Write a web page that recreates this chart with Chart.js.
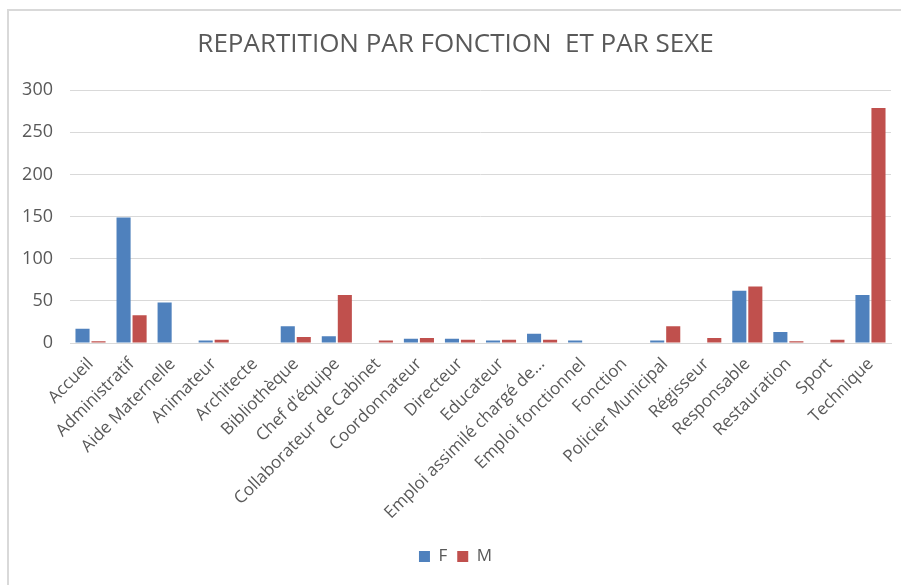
<!DOCTYPE html>
<html>
<head>
<meta charset="utf-8">
<script src="https://cdn.jsdelivr.net/npm/chart.js@4/dist/chart.umd.min.js"></script>
<style>
  html, body { margin: 0; padding: 0; background: #fff; overflow: hidden; }
  #frame { position: absolute; left: 7px; top: 9px; width: 1000px; height: 700px; border-left: 2px solid #d9d9d9; border-top: 2px solid #d9d9d9; }
  #wrap { position: absolute; left: 0; top: 0; width: 901px; height: 585px; }
</style>
</head>
<body>
<div id="frame"></div>
<div id="wrap"><canvas id="chart" width="901" height="585"></canvas></div>
<script>
// data
const categories = ["Accueil", "Administratif", "Aide Maternelle", "Animateur", "Architecte",
  "Bibliothèque", "Chef d'équipe", "Collaborateur de Cabinet", "Coordonnateur", "Directeur",
  "Educateur", "Emploi assimilé chargé de...", "Emploi fonctionnel", "Fonction",
  "Policier Municipal", "Régisseur", "Responsable", "Restauration", "Sport", "Technique"];
const valuesF = [17, 149, 48, 3, 0, 20, 8, 0, 5, 5, 3, 11, 3, 0, 3, 0, 62, 13, 0, 57];
const valuesM = [2, 33, 0, 4, 0, 7, 57, 3, 6, 4, 4, 4, 0, 0, 20, 6, 67, 2, 4, 279];
const yTicks = [0, 50, 100, 150, 200, 250, 300];

const font = "'Open Sans', sans-serif";
const textColor = "#595959";
const gridColor = "#d9d9d9";

Chart.defaults.font.family = font;
Chart.defaults.color = textColor;

const ctx = document.getElementById("chart");
new Chart(ctx, {
  type: "bar",
  data: {
    labels: categories,
    datasets: [
      { label: "F", data: valuesF, backgroundColor: "#4f81bd" },
      { label: "M", data: valuesM, backgroundColor: "#c0504d" }
    ]
  },
  options: {
    responsive: false,
    animation: false,
    layout: { padding: { left: 20, right: 10, top: 0, bottom: 10 } },
    datasets: { bar: { categoryPercentage: 0.78, barPercentage: 0.88 } },
    plugins: {
      title: {
        display: true,
        text: "REPARTITION PAR FONCTION  ET PAR SEXE",
        color: textColor,
        font: { size: 26, weight: "normal", family: font },
        padding: { top: 29, bottom: 30 }
      },
      legend: {
        position: "bottom",
        labels: {
          boxWidth: 11,
          boxHeight: 11,
          padding: 10,
          color: textColor,
          font: { size: 17, family: font }
        }
      },
      tooltip: { enabled: false }
    },
    scales: {
      x: {
        grid: { display: false },
        border: { display: true, color: gridColor, width: 1 },
        ticks: {
          autoSkip: false,
          minRotation: 45,
          maxRotation: 45,
          color: textColor,
          font: { size: 17, family: font }
        },
        afterFit: (scale) => { scale.height = 195; }
      },
      y: {
        min: 0,
        max: 300,
        afterBuildTicks: (scale) => { scale.ticks = yTicks.map(v => ({ value: v })); },
        grid: { color: gridColor, lineWidth: 1, drawTicks: false },
        border: { display: false },
        ticks: {
          padding: 17,
          color: textColor,
          font: { size: 18, family: font }
        },
        afterFit: (scale) => { scale.width = 50; }
      }
    }
  }
});
</script>
</body>
</html>
